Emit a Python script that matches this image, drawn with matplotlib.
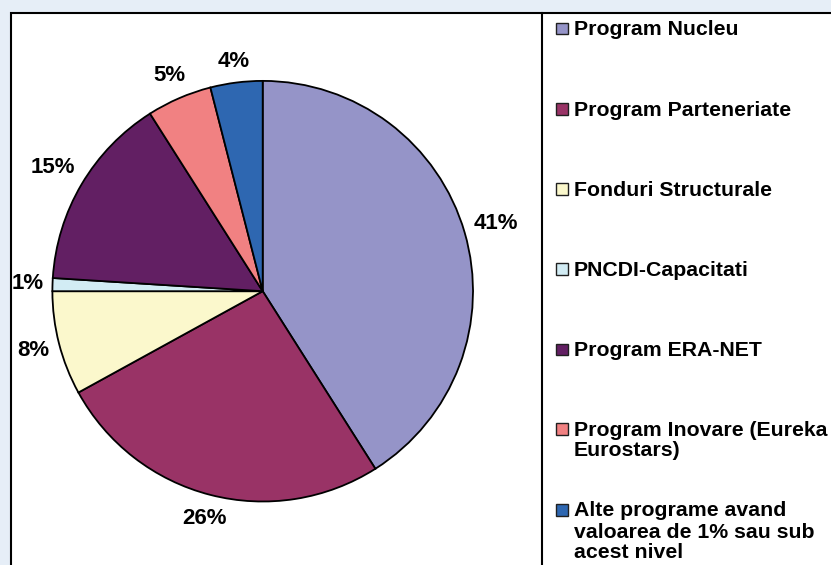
import numpy as np
import matplotlib.pyplot as plt
from matplotlib.patches import Rectangle
from matplotlib.lines import Line2D

plt.rcParams['font.family'] = ['Liberation Sans', 'DejaVu Sans']

# data
programs = ['Program Nucleu', 'Program Parteneriate', 'Fonduri Structurale',
            'PNCDI-Capacitati', 'Program ERA-NET',
            'Program Inovare (Eureka\nEurostars)',
            'Alte programe avand\nvaloarea de 1% sau sub\nacest nivel']
shares = [41, 26, 8, 1, 15, 5, 4]
colors = ['#9594C8', '#993366', '#FBF8CC', '#D2ECF4', '#621F63', '#F18182', '#2E67B1']

W, H = 831, 565
fig = plt.figure(figsize=(W / 100, H / 100), dpi=100, facecolor='#E6EEF7')

# white chart area with black border, runs off the right/bottom edge
fig.patches.append(Rectangle((10.7 / W, -0.1), 1.2, (H - 12.7) / H + 0.1,
                             transform=fig.transFigure, facecolor='white',
                             edgecolor='black', linewidth=1.5, zorder=-5))
fig.lines.append(Line2D([541.7 / W, 541.7 / W], [-0.1, (H - 12.7) / H],
                        transform=fig.transFigure, color='black', linewidth=1.5))

# pie
cx, cy, r = 262.7, 291.2, 210.3
ax = fig.add_axes([(cx - r) / W, (H - cy - r) / H, 2 * r / W, 2 * r / H])
wedges, _, pcts = ax.pie(shares, colors=colors, startangle=90, counterclock=False,
                         radius=1, autopct=lambda p: f'{p:.0f}%', pctdistance=1.13,
                         wedgeprops=dict(edgecolor='black', linewidth=1.3),
                         textprops=dict(fontsize=16, fontweight='bold', color='black'))
ax.set_xlim(-1, 1)
ax.set_ylim(-1, 1)
ax.axis('off')

# push each % label out so its box sits a fixed gap from the rim (like Excel)
renderer = fig.canvas.get_renderer()
for w, t in zip(wedges, pcts):
    ang = np.deg2rad((w.theta1 + w.theta2) / 2)
    bb = t.get_window_extent(renderer)
    reach = abs(np.cos(ang)) * bb.width / 2 + abs(np.sin(ang)) * (bb.height / 2 + 1)
    d = (r + 8 + reach) / r
    t.set_position((d * np.cos(ang), d * np.sin(ang)))

# legend drawn by hand so multi-line labels line up with their square
row_y = [28, 108.5, 188.5, 268.5, 349, 428.5, 509.5]
for lab, col, y in zip(programs, colors, row_y):
    fig.patches.append(Rectangle((556 / W, (H - y - 6) / H), 11.5 / W, 11.5 / H,
                                 transform=fig.transFigure, facecolor=col,
                                 edgecolor='#202020', linewidth=1.0))
    for k, line in enumerate(lab.split('\n')):
        fig.text(574 / W, (H - (y + 7 + 21 * k)) / H, line, fontsize=15.3,
                 fontweight='bold', va='baseline', ha='left')

fig.savefig('out.png', dpi=100, facecolor=fig.get_facecolor())
